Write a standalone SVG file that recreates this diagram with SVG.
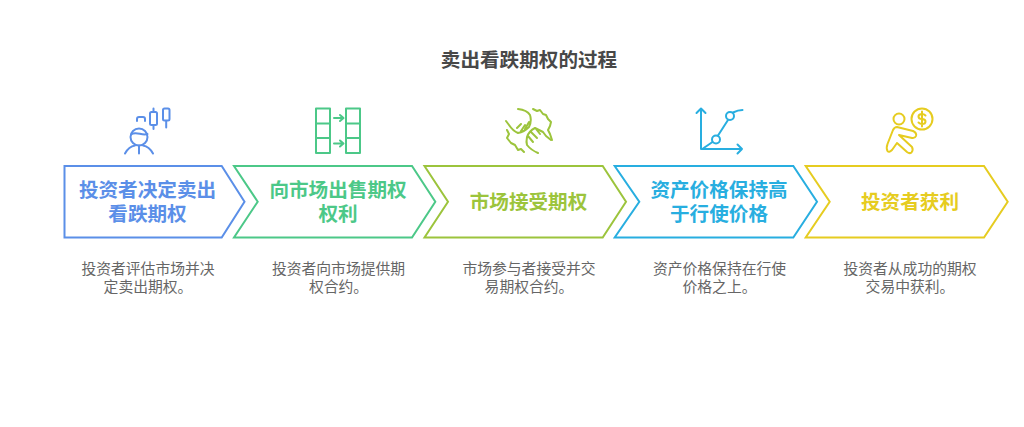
<svg xmlns="http://www.w3.org/2000/svg" width="1024" height="427" viewBox="0 0 1024 427">
<style>
text{font-family:"Liberation Sans","Noto Sans CJK SC",sans-serif;text-anchor:middle}
.title{font-size:19.600px;font-weight:700;fill:#484848}
.lab{font-size:19.600px;font-weight:700}
.desc{font-size:14.800px;fill:#666}
.s{fill:none;stroke-width:2;stroke-linecap:round;stroke-linejoin:round}
.b{fill:#fff;stroke-width:2}
.blue{stroke:#5b8fe8}.green{stroke:#4cc888}.lime{stroke:#9cc43c}.sky{stroke:#28aee0}.yel{stroke:#e6cc20}
</style>
<rect width="1024" height="427" fill="#fff"/>
<text class="title" x="529" y="67">卖出看跌期权的过程</text>
<g id="connectors"></g>
<g id="node1">
<path class="b blue" d="M64.500 166H221.700L244.500 201.700L221.700 237.500H64.500Z"/>
<g class="s blue"><circle cx="139" cy="137" r="8.500"/><path d="M131 134.500C136 131 142 136 147.500 134M139 145.500V153.500M125 153.500C128 148 132 146 135 145.500M153 153.500C150 148 146 146 143 145.500M137 121V119Q137 117 139 117H143Q145 117 145 119V121M150 113.500Q150 112 151.500 112H155.500Q157 112 157 113.500V123.500Q157 125 155.500 125H151.500Q150 125 150 123.500ZM153.500 108.500V112M153.500 125V129M163 110Q163 108.500 164.500 108.500H168Q169.500 108.500 169.500 110V119Q169.500 120.500 168 120.500H164.500Q163 120.500 163 119ZM166.200 120.500V127.500"/></g>
<text class="lab" fill="#5b8fe8" x="147.500" y="197">投资者决定卖出</text>
<text class="lab" fill="#5b8fe8" x="147.500" y="221">看跌期权</text>
<text class="desc" x="148" y="274">投资者评估市场并决</text>
<text class="desc" x="148" y="292">定卖出期权。</text>
</g>
<g id="node2">
<path class="b green" d="M234 166H412L435.300 201.700L412 237.500H234L257.700 201.700Z"/>
<g class="s green"><path d="M316 108.500H330V153H316ZM316 123.500H330M316 138H330M346 108.500H360V153H346ZM346 123.500H360M346 138H360M334 118H343M340 115L343.500 118L340 121M334 143.500H343M340 140.500L343.500 143.500L340 146.500"/></g>
<text class="lab" fill="#4cc888" x="338" y="197">向市场出售期权</text>
<text class="lab" fill="#4cc888" x="338" y="221">权利</text>
<text class="desc" x="338.500" y="274">投资者向市场提供期</text>
<text class="desc" x="338.500" y="292">权合约。</text>
</g>
<g id="node3">
<path class="b lime" d="M424.500 166H602.700L626 201.700L602.700 237.500H424.500L448 201.700Z"/>
<g class="s lime"><path d="M518 109Q527 110 530 115Q532 121 529 127Q524 132 518 133Q513 131 509 125L506 121M517 128L521 124M521 131L525 125M525 129L529 122"/>
<path d="M533 109L537 111L540 110L543 114L546 115L548 119L551 122L550 126L548 130L550 134L552 140"/>
<path d="M551 140L546 136L543 132L535 128Q529 131 527 137Q526 142 527 145Q531 150 538 153M528 136L533 142M531 132L537 138M536 129L540 134"/>
<path d="M507 130L509 134L507 138L511 143L515 145L518 150L521 149L524 152"/></g>
<text class="lab" fill="#9cc43c" x="528.500" y="208.500">市场接受期权</text>
<text class="desc" x="529" y="274">市场参与者接受并交</text>
<text class="desc" x="529" y="292">易期权合约。</text>
</g>
<g id="node4">
<path class="b sky" d="M614.700 166H793.300L817 201.700L793.300 237.500H614.700L639.300 201.700Z"/>
<g class="s sky"><path d="M701 149V108.500M696.500 113L701 108.500L705.500 113M701 149H742M737.500 144.500L742 149L737.500 153.500M703 148.500L712.500 142M718 135.500L728 120M733 112.500Q738 110 742.500 110"/><circle cx="716" cy="139.500" r="4"/><circle cx="730" cy="116" r="4"/></g>
<text class="lab" fill="#28aee0" x="719" y="197">资产价格保持高</text>
<text class="lab" fill="#28aee0" x="719" y="221">于行使价格</text>
<text class="desc" x="719.500" y="274">资产价格保持在行使</text>
<text class="desc" x="719.500" y="292">价格之上。</text>
</g>
<g id="node5">
<path class="b yel" d="M805.700 166H984L1007.700 201.700L984 237.500H805.700L829.700 201.700Z"/>
<g class="s yel"><circle cx="899" cy="119" r="5.500"/><circle cx="922" cy="119" r="10.500"/><path d="M925.500 115.500Q924 114 922 114Q918.500 114 918.500 116.500Q918.500 119 922 119Q925.500 119 925.500 121.500Q925.500 124 922 124Q920 124 918.500 122.500M922 111.500V126.500"/>
<path d="M897 127L913 131Q917 133 916 136Q915 138.500 912 138L899 135L912 147Q913.500 150 911.500 152.500Q909.500 154 907 152L897 143L892 150Q889 153 887.500 151Q886 148 887.500 144L893 130Q894.500 127 897 127Z"/></g>
<text class="lab" fill="#e6cc20" x="910" y="208.500">投资者获利</text>
<text class="desc" x="910" y="274">投资者从成功的期权</text>
<text class="desc" x="910" y="292">交易中获利。</text>
</g>
</svg>
